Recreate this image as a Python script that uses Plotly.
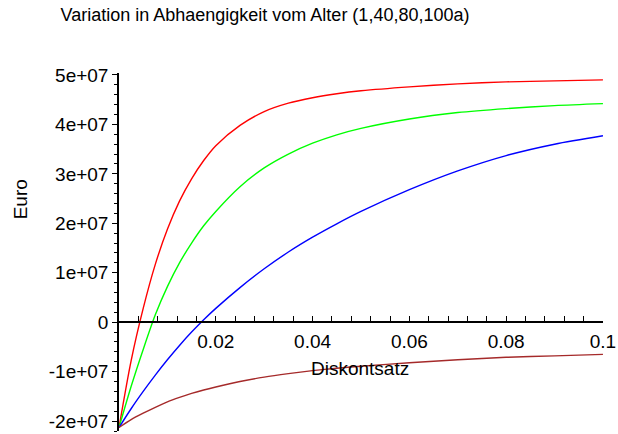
import plotly.graph_objects as go

# Discount rate (x) values
diskontsatz = [0, 0.0025, 0.005, 0.0075, 0.01, 0.0125, 0.015, 0.0175, 0.02, 0.025,
               0.03, 0.035, 0.04, 0.045, 0.05, 0.06, 0.07, 0.08, 0.09, 0.1]

# Euro values for the four ages
alter_1 = [-2.13e7, -0.78e7, 0.28e7, 1.17e7, 1.88e7, 2.45e7, 2.90e7, 3.27e7, 3.57e7, 3.98e7,
           4.26e7, 4.43e7, 4.54e7, 4.62e7, 4.68e7, 4.76e7, 4.82e7, 4.86e7, 4.88e7, 4.90e7]
alter_40 = [-2.13e7, -1.30e7, -0.55e7, 0.15e7, 0.72e7, 1.20e7, 1.60e7, 1.95e7, 2.24e7, 2.74e7,
            3.12e7, 3.40e7, 3.62e7, 3.79e7, 3.92e7, 4.11e7, 4.24e7, 4.32e7, 4.38e7, 4.42e7]
alter_80 = [-2.13e7, -1.75e7, -1.40e7, -1.07e7, -0.76e7, -0.47e7, -0.20e7, 0.05e7, 0.28e7, 0.70e7,
            1.08e7, 1.42e7, 1.72e7, 1.99e7, 2.24e7, 2.68e7, 3.06e7, 3.37e7, 3.60e7, 3.77e7]
alter_100 = [-2.13e7, -1.97e7, -1.84e7, -1.72e7, -1.61e7, -1.52e7, -1.44e7, -1.37e7, -1.31e7, -1.20e7,
             -1.11e7, -1.04e7, -0.98e7, -0.93e7, -0.89e7, -0.82e7, -0.76e7, -0.71e7, -0.68e7, -0.65e7]

series_names = ["1a", "40a", "80a", "100a"]
series_colors = ["#ff0000", "#00ff00", "#0000ff", "#a52a2a"]

# Axis ticks
y_tickvals = [-2e7, -1e7, 0, 1e7, 2e7, 3e7, 4e7, 5e7]
y_ticktext = ["-2e+07", "-1e+07", "0", "1e+07", "2e+07", "3e+07", "4e+07", "5e+07"]
x_tickvals = [0.02, 0.04, 0.06, 0.08, 0.1]
x_ticktext = ["0.02", "0.04", "0.06", "0.08", "0.1"]

y_range = [-2.2e7, 5.04e7]
x_range = [0, 0.10001]

fig = go.Figure()
for name, vals, col in zip(series_names, [alter_1, alter_40, alter_80, alter_100], series_colors):
    fig.add_trace(go.Scatter(x=diskontsatz, y=vals, mode="lines", name=name, cliponaxis=True,
                             line=dict(color=col, width=1.4, shape="spline", smoothing=0.8)))

zero_pos = (0 - y_range[0]) / (y_range[1] - y_range[0])

font_family = "Liberation Sans, Arial, sans-serif"

fig.update_layout(
    width=618, height=434,
    margin=dict(l=119, r=9, t=73, b=2),
    paper_bgcolor="white", plot_bgcolor="white",
    showlegend=False,
    font=dict(family=font_family, color="black"),
    title=dict(text="Variation in Abhaengigkeit vom Alter (1,40,80,100a)",
               xref="container", yref="container", x=265 / 618, y=1 - 15 / 434,
               xanchor="center", yanchor="middle",
               font=dict(size=18, family=font_family, color="black")),
    xaxis=dict(range=x_range, anchor="free", position=zero_pos,
               showline=True, linecolor="black", linewidth=1.5,
               showgrid=False, zeroline=False,
               ticks="inside", ticklen=5, tickwidth=1, tickcolor="black",
               tickvals=x_tickvals, ticktext=x_ticktext,
               tickfont=dict(size=19, family=font_family, color="black"),
               ticklabelstandoff=2, ticklabeloverflow="allow",
               minor=dict(ticks="inside", dtick=0.004, tick0=0, ticklen=5, tickcolor="black", showgrid=False)),
    yaxis=dict(range=y_range, showline=True, linecolor="black", linewidth=1.5,
               showgrid=False, zeroline=False,
               ticks="outside", ticklen=5, tickwidth=1, tickcolor="black",
               tickvals=y_tickvals, ticktext=y_ticktext,
               tickfont=dict(size=19, family=font_family, color="black"),
               ticklabeloverflow="allow",
               minor=dict(ticks="outside", dtick=2e6, tick0=0, ticklen=3, tickcolor="black", showgrid=False)),
    annotations=[
        dict(text="Euro", xref="paper", yref="paper", textangle=-90,
             x=(19.5 - 119) / (618 - 119 - 9), y=1 - (200 - 73) / (432 - 73),
             xanchor="center", yanchor="middle", showarrow=False,
             font=dict(size=19, family=font_family, color="black")),
        dict(text="Diskontsatz", xref="paper", yref="paper",
             x=(363 - 119) / (618 - 119 - 9), y=1 - (369 - 73) / (432 - 73),
             xanchor="center", yanchor="middle", showarrow=False,
             font=dict(size=19, family=font_family, color="black")),
    ],
)

fig.write_html("out.html")
